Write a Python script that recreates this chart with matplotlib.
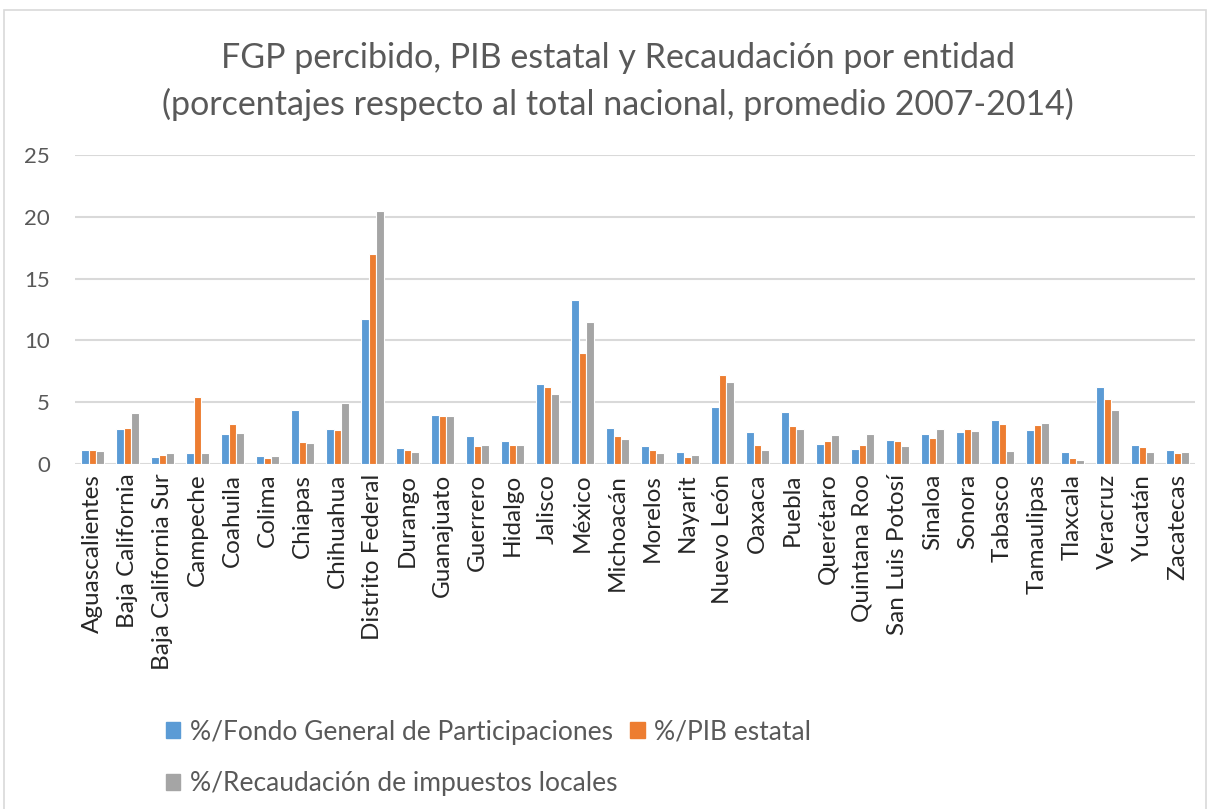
import matplotlib
matplotlib.use("Agg")
import matplotlib.pyplot as plt
import numpy as np
from matplotlib.patches import Rectangle, Patch

plt.rcParams['font.family'] = ['Lato', 'DejaVu Sans']

estados = ["Aguascalientes", "Baja California", "Baja California Sur", "Campeche", "Coahuila",
           "Colima", "Chiapas", "Chihuahua", "Distrito Federal", "Durango", "Guanajuato",
           "Guerrero", "Hidalgo", "Jalisco", "México", "Michoacán", "Morelos", "Nayarit",
           "Nuevo León", "Oaxaca", "Puebla", "Querétaro", "Quintana Roo", "San Luis Potosí",
           "Sinaloa", "Sonora", "Tabasco", "Tamaulipas", "Tlaxcala", "Veracruz", "Yucatán",
           "Zacatecas"]

fgp = [1.1, 2.8, 0.6, 0.9, 2.4, 0.65, 4.4, 2.85, 11.7, 1.3, 4.0, 2.3, 1.85, 6.45, 13.25,
       2.95, 1.45, 0.95, 4.65, 2.6, 4.2, 1.6, 1.2, 1.95, 2.4, 2.55, 3.6, 2.75, 1.0, 6.2,
       1.55, 1.15]
pib = [1.1, 2.9, 0.7, 5.4, 3.2, 0.5, 1.75, 2.75, 17.0, 1.15, 3.85, 1.45, 1.55, 6.25, 9.0,
       2.3, 1.15, 0.6, 7.2, 1.55, 3.1, 1.9, 1.5, 1.9, 2.1, 2.8, 3.25, 3.15, 0.5, 5.25,
       1.4, 0.85]
recaud = [1.05, 4.1, 0.85, 0.9, 2.5, 0.65, 1.7, 4.9, 20.5, 1.0, 3.9, 1.5, 1.55, 5.65, 11.5,
          2.0, 0.9, 0.7, 6.65, 1.1, 2.85, 2.35, 2.45, 1.45, 2.85, 2.65, 1.05, 3.3, 0.3, 4.4,
          1.0, 0.95]

series_names = ["%/Fondo General de Participaciones", "%/PIB estatal",
                "%/Recaudación de impuestos locales"]
colors = ["#5B9BD5", "#ED7D31", "#A5A5A5"]
yticks = [0, 5, 10, 15, 20, 25]

W, H = 1211, 809
fig = plt.figure(figsize=(W / 100, H / 100), dpi=100)
ax = fig.add_axes([75 / W, 1 - 464 / H, 1120 / W, 309 / H])

x = np.arange(len(estados))
bw = 0.22
for i, (vals, c) in enumerate(zip([fgp, pib, recaud], colors)):
    ax.bar(x + (i - 1) * bw, vals, width=bw, color=c, edgecolor="white", linewidth=0.8,
           zorder=3)

ax.set_xlim(-0.5, len(estados) - 0.5)
ax.set_ylim(0, 25)
ax.set_yticks(yticks)
ax.set_yticklabels([str(t) for t in yticks], fontsize=16, color="#595959")
ax.set_xticks(x)
ax.set_xticklabels(estados, rotation=90, fontsize=17.5, color="#262626")
ax.tick_params(axis="x", length=0, pad=7)
ax.tick_params(axis="y", length=0, pad=18)
ax.grid(axis="y", color="#D9D9D9", linewidth=1.5, zorder=0)
for s in ax.spines.values():
    s.set_visible(False)

fig.text(618 / W, 1 - 58 / H, "FGP percibido, PIB estatal y Recaudación por entidad",
         ha="center", va="center", fontsize=24.5, color="#595959")
fig.text(618 / W, 1 - 104 / H, "(porcentajes respecto al total nacional, promedio 2007-2014)",
         ha="center", va="center", fontsize=24.5, color="#595959")

handles = [Patch(color=colors[0]), Patch(color=colors[2]), Patch(color=colors[1])]
labels = [series_names[0], series_names[2], series_names[1]]
fig.legend(handles, labels, ncol=2, loc="upper left", bbox_to_anchor=(142 / W, 1 - 696 / H),
           frameon=False, fontsize=19, labelcolor="#595959", handlelength=0.55,
           handleheight=0.55, handletextpad=0.35, columnspacing=0.5, labelspacing=1.0)

fig.patches.append(Rectangle((4 / W, -0.01), 1202 / W, 1 - 10 / H + 0.01,
                             transform=fig.transFigure, fill=False, edgecolor="#D9D9D9",
                             linewidth=1.2))

fig.savefig("out.png", dpi=100, facecolor="white")
